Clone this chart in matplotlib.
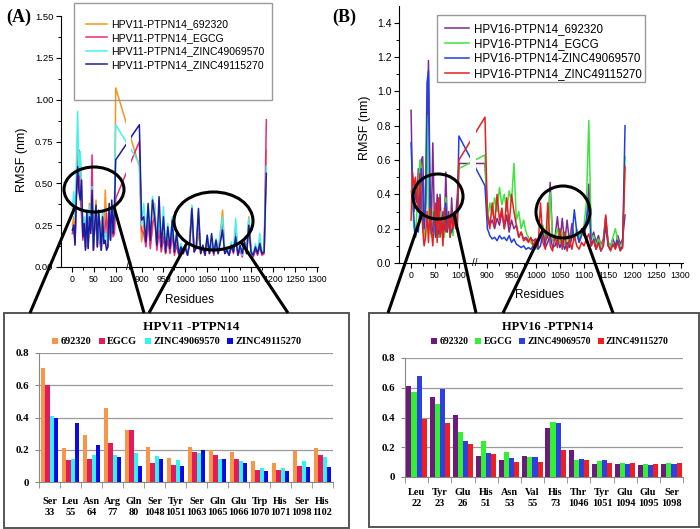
import numpy as np
import matplotlib
matplotlib.use("Agg")
import matplotlib.pyplot as plt
from matplotlib.patches import Ellipse, Rectangle

plt.rcParams['font.family'] = ['Liberation Sans', 'DejaVu Sans']
SERIF = 'Liberation Serif'

W, H = 700, 529

# residues of the two plotted stretches (x axis is broken between them)
res_n = np.arange(1, 101, 3)
res_c = np.arange(895, 1186, 5)

# ---- HPV11-PTPN14 RMSF (nm) ----
hpv11_692320_n = [.25, .30, .16, .45, .70, .62, .64, .45, .22, .28, .12, .30, .15, .38, .24, .45, .12,
                  .28, .40, .14, .30, .27, .12, .33, .16, .46, .30, .16, .36, .18, .30, .20, .22, 1.07]
hpv11_egcg_n = [.20, .25, .14, .40, .55, .70, .42, .30, .16, .25, .11, .28, .12, .30, .22, .67, .10,
                .22, .30, .12, .25, .14, .10, .28, .14, .24, .32, .12, .30, .16, .26, .18, .20, .41]
hpv11_z570_n = [.35, .45, .28, .60, .93, .55, .69, .48, .20, .30, .13, .32, .14, .36, .28, .48, .12,
                .26, .36, .14, .32, .17, .11, .34, .15, .20, .18, .14, .34, .18, .35, .22, .36, .85]
hpv11_z270_n = [.22, .25, .13, .42, .60, .45, .40, .52, .18, .26, .10, .34, .11, .30, .20, .46, .10,
                .25, .37, .12, .34, .23, .10, .30, .14, .16, .10, .12, .38, .16, .40, .20, .34, .64]

hpv11_692320_c = [.60, .15, .25, .14, .30, .13, .22, .38, .12, .25, .10, .20, .08, .22, .10, .24, .09, .15, .08, .10,
                  .09, .12, .08, .14, .30, .10, .12, .20, .09, .12, .08, .14, .09, .12, .08, .16, .10, .20, .34, .10,
                  .12, .09, .14, .10, .24, .09, .12, .08, .16, .10, .30, .10, .07, .12, .08, .16, .08, .09, .70]
hpv11_egcg_c = [.75, .22, .20, .12, .28, .11, .26, .30, .10, .22, .09, .18, .08, .16, .08, .20, .07, .13, .07, .10,
                .08, .11, .07, .16, .36, .09, .11, .30, .08, .12, .07, .17, .08, .14, .07, .15, .08, .16, .26, .08,
                .10, .07, .12, .08, .20, .07, .10, .06, .14, .08, .27, .09, .06, .10, .07, .12, .07, .08, .88]
hpv11_z570_c = [.62, .25, .38, .18, .36, .20, .42, .35, .16, .30, .14, .36, .10, .26, .12, .30, .10, .22, .09, .14,
                .08, .13, .07, .15, .37, .10, .12, .33, .09, .13, .08, .19, .09, .14, .08, .17, .09, .21, .30, .09,
                .12, .08, .15, .10, .29, .09, .12, .07, .15, .09, .29, .10, .07, .14, .08, .20, .09, .10, .60]
hpv11_z270_c = [.85, .28, .30, .15, .38, .16, .40, .30, .13, .42, .12, .30, .09, .24, .11, .28, .09, .20, .08, .12,
                .08, .12, .07, .14, .35, .09, .12, .35, .08, .13, .07, .19, .08, .20, .08, .16, .08, .15, .22, .08,
                .10, .07, .13, .09, .18, .07, .13, .08, .15, .08, .25, .09, .07, .12, .08, .14, .08, .09, .56]

# ---- HPV16-PTPN14 RMSF (nm) ----
hpv16_692320_n = [.89, .40, .30, .42, .35, .55, .30, .60, .62, .35, .30, .70, 1.18, .50, .20, .70, .28,
                  .15, .40, .20, .40, .18, .30, .22, .53, .20, .30, .15, .38, .20, .25, .30, .40, .58]
hpv16_egcg_n = [.42, .35, .20, .15, .30, .40, .60, .55, .25, .15, .40, .86, .30, .20, .15, .30, .20,
                .15, .20, .15, .30, .17, .25, .15, .38, .20, .25, .15, .20, .16, .30, .20, .25, .55]
hpv16_z570_n = [.70, .45, .25, .15, .20, .18, .30, .55, .45, .20, .35, 1.05, 1.12, .30, .17, .20, .30,
                .15, .22, .17, .20, .25, .18, .20, .35, .18, .25, .20, .18, .22, .30, .20, .30, .74]
hpv16_z270_n = [.25, .53, .45, .50, .42, .30, .52, .40, .20, .10, .15, .30, .12, .32, .20, .10, .25,
                .35, .12, .38, .15, .25, .10, .32, .18, .20, .28, .15, .30, .20, .25, .20, .22, .60]

hpv16_692320_c = [.58, .30, .22, .25, .20, .26, .22, .30, .20, .28, .18, .25, .20, .22, .15, .18, .14, .15, .13, .14,
                  .13, .14, .12, .15, .20, .13, .15, .47, .13, .15, .27, .12, .26, .11, .25, .12, .23, .14, .18, .12,
                  .20, .16, .22, .46, .14, .18, .12, .16, .10, .14, .27, .12, .10, .14, .10, .16, .11, .14, .28]
hpv16_egcg_c = [.63, .25, .35, .28, .38, .30, .44, .34, .40, .30, .42, .36, .58, .25, .30, .20, .25, .18, .15, .12,
                .10, .08, .13, .15, .22, .14, .18, .41, .13, .15, .20, .12, .18, .11, .16, .10, .18, .13, .20, .15,
                .18, .22, .35, .83, .15, .16, .10, .14, .10, .12, .24, .12, .10, .15, .20, .13, .10, .12, .62]
hpv16_z570_c = [.45, .20, .16, .14, .15, .13, .16, .14, .15, .13, .16, .12, .14, .11, .10, .09, .10, .08, .09, .08,
                .10, .12, .08, .10, .18, .09, .12, .16, .09, .10, .14, .09, .13, .08, .12, .09, .15, .31, .18, .12,
                .16, .20, .25, .36, .10, .14, .08, .12, .07, .10, .22, .10, .08, .11, .09, .13, .08, .10, .80]
hpv16_z270_c = [.85, .28, .20, .35, .22, .40, .25, .32, .20, .38, .22, .40, .30, .22, .15, .18, .13, .14, .12, .15,
                .10, .14, .09, .35, .12, .08, .35, .10, .07, .16, .09, .20, .08, .18, .07, .14, .08, .16, .10, .08,
                .12, .10, .14, .17, .10, .13, .08, .12, .07, .10, .28, .10, .07, .11, .08, .12, .07, .09, .56]

hpv11_names = ['HPV11-PTPN14_692320', 'HPV11-PTPN14_EGCG',
               'HPV11-PTPN14_ZINC49069570', 'HPV11-PTPN14_ZINC49115270']
hpv16_names = ['HPV16-PTPN14_692320', 'HPV16-PTPN14_EGCG',
               'HPV16-PTPN14-ZINC49069570', 'HPV16-PTPN14_ZINC49115270']

# ---- residue-level RMSF bars (insets) ----
ligands = ['692320', 'EGCG', 'ZINC49069570', 'ZINC49115270']

cats_a = ['Ser', 'Leu', 'Asn', 'Arg', 'Gln', 'Ser', 'Tyr', 'Ser', 'Gln', 'Glu', 'Trp', 'His', 'Ser', 'His']
nums_a = ['33', '55', '64', '77', '80', '1048', '1051', '1063', '1065', '1066', '1070', '1071', '1098', '1102']
bar_a_692320 = [.71, .21, .29, .46, .32, .22, .15, .22, .20, .185, .13, .12, .19, .21]
bar_a_egcg = [.60, .135, .14, .24, .32, .12, .105, .185, .165, .14, .075, .072, .10, .165]
bar_a_z570 = [.41, .145, .17, .17, .18, .16, .135, .18, .145, .13, .086, .084, .128, .156]
bar_a_z270 = [.40, .365, .23, .155, .10, .145, .10, .20, .142, .117, .07, .068, .09, .095]

cats_b = ['Leu', 'Tyr', 'Glu', 'His', 'Asn', 'Val', 'His', 'Thr', 'Tyr', 'Glu', 'Glu', 'Ser']
nums_b = ['22', '23', '26', '51', '53', '55', '73', '1046', '1051', '1094', '1095', '1098']
bar_b_692320 = [.61, .54, .42, .14, .115, .14, .33, .18, .09, .088, .078, .088]
bar_b_egcg = [.57, .49, .30, .24, .17, .135, .37, .115, .105, .097, .088, .097]
bar_b_z570 = [.68, .59, .24, .16, .13, .135, .36, .12, .115, .09, .082, .09]
bar_b_z270 = [.39, .36, .22, .155, .10, .10, .18, .115, .095, .095, .088, .092]

hpv11_line_colors = ['#F7941D', '#EC2879', '#45F2F0', '#1C1C9E']
hpv16_line_colors = ['#7D2A8E', '#3CE63C', '#1F3FE6', '#E62020']
hpv11_bar_colors = ['#F79646', '#E6195A', '#33F2F2', '#0A0AE6']
hpv16_bar_colors = ['#6B1B7B', '#33F033', '#2E3FE3', '#F01E1E']


def brk(r):
    # squeeze out residues 101-894 for the broken axis
    r = np.asarray(r, dtype=float)
    return np.where(r < 500, r, r - 741)


def box(l, t, r, b):
    return [l / W, 1 - b / H, (r - l) / W, (b - t) / H]


fig = plt.figure(figsize=(W / 100, H / 100), dpi=100)


def rmsf_panel(rect, xlim, curves, names, colors, yticks, yminor, yfmt, ytick_fs,
               gap, brk_x, leg_xy, leg_fs, leg_hl, leg_sp, ylab_xy, xlab_xy):
    ax = fig.add_axes(box(*rect))
    xs = np.r_[brk(res_n), brk(res_c)]
    for (yn, yc), name, col in zip(curves, names, colors):
        ax.plot(xs, np.r_[yn, yc], color=col, lw=1.1, label=name, zorder=2)
    ax.axvspan(gap[0], gap[1], ymin=0.01, color='white', lw=0, zorder=3)
    ax.text(brk_x, 0, '//', ha='center', va='center', fontsize=7, zorder=6, clip_on=False)
    ax.set_xlim(*xlim)
    ax.set_ylim(0, 1.5)
    major = [0, 50, 100] + list(range(900, 1301, 50))
    minor = [25, 75] + list(range(925, 1300, 50))
    ax.set_xticks(brk(major))
    ax.set_xticklabels([str(v) for v in major])
    ax.set_xticks(brk(minor), minor=True)
    ax.set_yticks(yticks)
    ax.set_yticklabels([yfmt % v for v in yticks])
    ax.set_yticks(yminor, minor=True)
    for s in ('top', 'right'):
        ax.spines[s].set_visible(False)
    ax.tick_params(which='major', direction='out', length=3.5, width=0.8, pad=2)
    ax.tick_params(which='minor', direction='out', length=2, width=0.7)
    ax.tick_params(axis='x', labelsize=6.3)
    ax.tick_params(axis='y', labelsize=ytick_fs)
    ax.set_ylabel('RMSF (nm)', fontsize=9)
    ax.yaxis.set_label_coords(*ylab_xy)
    ax.yaxis.label.set_va('center')
    ax.set_xlabel('Residues', fontsize=8.5)
    ax.xaxis.set_label_coords(*xlab_xy)
    ax.xaxis.label.set_va('center')
    ax.legend(loc='upper left', bbox_to_anchor=(leg_xy[0] / W, 1 - leg_xy[1] / H),
              bbox_transform=fig.transFigure, frameon=False, borderpad=0, fontsize=leg_fs,
              handlelength=leg_hl, handletextpad=0.4, labelspacing=leg_sp)
    return ax


def bar_inset(rect, cats, nums, vals, colors, bw, title, title_xy, title_fs,
              leg_xy, leg_fs, tick_pad):
    ax = fig.add_axes(box(*rect))
    x = np.arange(len(cats))
    for k, (v, name, col) in enumerate(zip(vals, ligands, colors)):
        ax.bar(x + (k - 1.5) * bw, v, bw, color=col, label=name, zorder=3)
    ax.set_xlim(-0.5, len(cats) - 0.5)
    ax.set_ylim(0, 0.8)
    ax.set_yticks([0, .2, .4, .6, .8])
    ax.set_yticklabels(['0', '0.2', '0.4', '0.6', '0.8'])
    ax.yaxis.grid(True, color='#9a9a9a', lw=0.9)
    ax.set_axisbelow(True)
    ax.set_xticks(x)
    ax.set_xticklabels([c + '\n' + n for c, n in zip(cats, nums)])
    ax.set_xticks(np.arange(len(cats) + 1) - 0.5, minor=True)
    for s in ('top', 'right'):
        ax.spines[s].set_visible(False)
    for s in ('left', 'bottom'):
        ax.spines[s].set_color('#888888')
    ax.tick_params(axis='x', which='major', length=0, pad=tick_pad)
    ax.tick_params(axis='x', which='minor', length=4, color='#888888')
    ax.tick_params(axis='y', length=3, color='#888888', pad=4)
    for lab in ax.get_xticklabels() + ax.get_yticklabels():
        lab.set_fontfamily(SERIF)
        lab.set_fontweight('bold')
    for lab in ax.get_xticklabels():
        lab.set_fontsize(7.4)
    for lab in ax.get_yticklabels():
        lab.set_fontsize(7.8)
    fig.text(title_xy[0] / W, 1 - title_xy[1] / H, title, ha='center', va='center',
             family=SERIF, weight='bold', fontsize=title_fs)
    ax.legend(loc='center', bbox_to_anchor=(leg_xy[0] / W, 1 - leg_xy[1] / H),
              bbox_transform=fig.transFigure, ncol=4, frameon=False, borderpad=0,
              handlelength=0.6, handleheight=0.6, handletextpad=0.25, columnspacing=0.7,
              prop={'family': SERIF, 'weight': 'bold', 'size': leg_fs})
    return ax


rmsf_panel((61, 16, 318, 267), (-25, 562),
           [(hpv11_692320_n, hpv11_692320_c), (hpv11_egcg_n, hpv11_egcg_c),
            (hpv11_z570_n, hpv11_z570_c), (hpv11_z270_n, hpv11_z270_c)],
           hpv11_names, hpv11_line_colors,
           np.arange(0, 1.51, 0.25), np.arange(0.125, 1.5, 0.25), '%.2f', 6.8,
           (124, 134), 129, (81, 14), 7.6, 2.0, 0.34,
           ((22 - 61) / 257, (267 - 160) / 251), ((190 - 61) / 257, -(300 - 267) / 251))

rmsf_panel((399, 5.6, 683, 263), (-24, 564),
           [(hpv16_692320_n, hpv16_692320_c), (hpv16_egcg_n, hpv16_egcg_c),
            (hpv16_z570_n, hpv16_z570_c), (hpv16_z270_n, hpv16_z270_c)],
           hpv16_names, hpv16_line_colors,
           np.arange(0, 1.41, 0.2), np.arange(0.1, 1.5, 0.2), '%.1f', 7.5,
           (123, 136), 133, (439, 17), 8.3, 2.1, 0.26,
           ((365 - 399) / 284, (263 - 128) / 257.4), ((540 - 399) / 284, -(295 - 263) / 257.4))

bar_inset((39, 353, 333, 482), cats_a, nums_a,
          [bar_a_692320, bar_a_egcg, bar_a_z570, bar_a_z270], hpv11_bar_colors, 0.2,
          'HPV11 -PTPN14', (191, 327), 9.5, (177, 342), 7.4, 11)

bar_inset((405, 358, 683, 477), cats_b, nums_b,
          [bar_b_692320, bar_b_egcg, bar_b_z570, bar_b_z270], hpv16_bar_colors, 0.22,
          'HPV16 -PTPN14', (548, 327), 9.0, (550, 342), 7.0, 8)

# overlay in pixel coordinates for frames, zoom ellipses and connector lines
ov = fig.add_axes([0, 0, 1, 1], zorder=10)
ov.set_xlim(0, W)
ov.set_ylim(H, 0)
ov.axis('off')
ov.patch.set_alpha(0)

ov.add_patch(Rectangle((74, 3), 198, 97, fill=False, ec='#9a9a9a', lw=1))
ov.add_patch(Rectangle((437, 15), 208, 67, fill=False, ec='#9a9a9a', lw=1))
ov.add_patch(Rectangle((4, 313), 345, 215, fill=False, ec='#555555', lw=1.4))
ov.add_patch(Rectangle((369, 313), 330, 214, fill=False, ec='#555555', lw=1.4))

for cx, cy, ew, eh in [(94, 189.5, 60, 45), (213.5, 221, 79, 58),
                       (438, 196.5, 50, 45), (563, 212, 54, 52)]:
    ov.add_patch(Ellipse((cx, cy), ew, eh, fill=False, ec='black', lw=2.2))

for (x0, y0), (x1, y1) in [((75, 207), (30, 313)), ((114, 207), (144, 313)),
                           ((187, 243), (149, 313)), ((241, 242), (288, 313)),
                           ((422, 214), (388, 313)), ((454, 214), (476, 313)),
                           ((543, 230), (503, 313)), ((583, 230), (613, 313))]:
    ov.plot([x0, x1], [y0, y1], color='black', lw=2.2, solid_capstyle='butt')

ov.text(19, 17, '(A)', ha='center', va='center', family=SERIF, weight='bold', fontsize=13)
ov.text(344, 17, '(B)', ha='center', va='center', family=SERIF, weight='bold', fontsize=13)

fig.savefig('out.png', dpi=100)
